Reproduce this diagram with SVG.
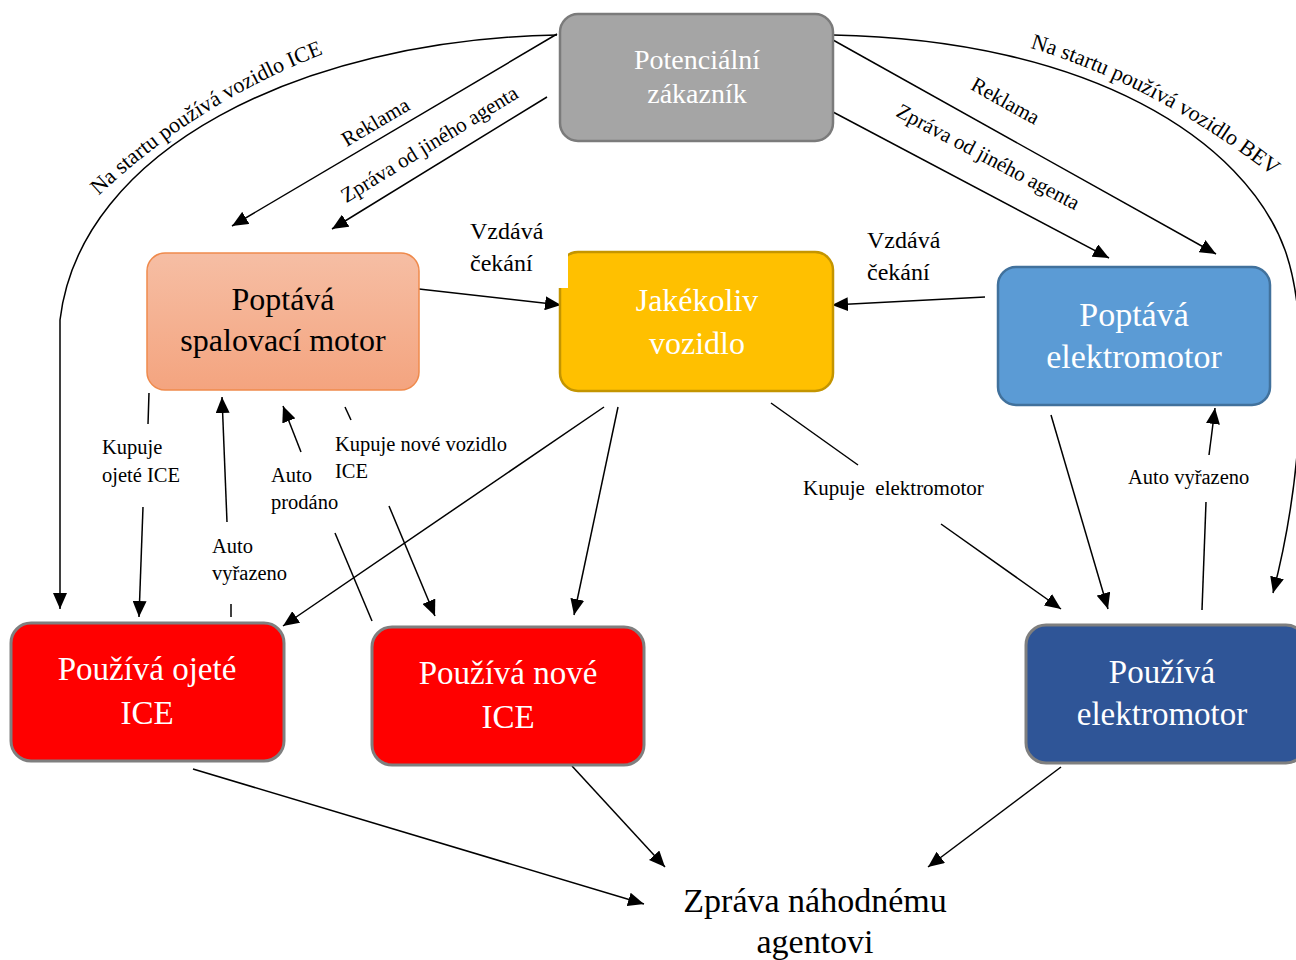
<svg xmlns="http://www.w3.org/2000/svg" width="1296" height="960" viewBox="0 0 1296 960">
  <style>
    text { font-family: "Liberation Serif", "Times New Roman", serif; }
    .lbl { font-size: 20.5px; fill: #000; }
    .rot { font-size: 21px; fill: #000; }
    .wait { font-size: 24px; fill: #000; }
    .node-text { fill: #fff; text-anchor: middle; }
    .edge { fill: none; stroke: #000; stroke-width: 1.5; }
    .arrow { marker-end: url(#head); }
  </style>
  <defs>
    <marker id="head" viewBox="0 0 16 14" refX="16" refY="7" markerWidth="16" markerHeight="14" markerUnits="userSpaceOnUse" orient="auto">
      <path d="M0,0 L16,7 L0,14 Z" fill="#000"/>
    </marker>
    <linearGradient id="peach" x1="0" y1="0" x2="0" y2="1">
      <stop offset="0" stop-color="#f6bea4"/>
      <stop offset="1" stop-color="#f4a47f"/>
    </linearGradient>
    <path id="ice-start" d="M80,214 Q194,98 348,45"/>
    <path id="bev-start" d="M1024,46 Q1156,84 1278,180"/>
  </defs>

  <rect width="1296" height="960" fill="#fff"/>

  <!-- connectors -->
  <g id="connectors">
    <!-- start state links from the potential customer -->
    <path class="edge arrow" d="M557,35 C300,40 80,150 60,320 L60,609"/>
    <path class="edge arrow" d="M557,34 L232,226"/>
    <path class="edge arrow" d="M547,97 L332,229"/>
    <path class="edge arrow" d="M833,35 C1090,40 1245,140 1285,250 C1310,320 1305,470 1273,593"/>
    <path class="edge arrow" d="M833,40 L1216,254"/>
    <path class="edge arrow" d="M833,112 L1109,258"/>
    <!-- giving up waiting -->
    <path class="edge arrow" d="M419,289 L561,305"/>
    <path class="edge arrow" d="M985,297 L832,305"/>
    <!-- ICE transitions -->
    <path class="edge" d="M149,393 L148,424"/>
    <path class="edge arrow" d="M143,507 L139,617"/>
    <path class="edge" d="M231,604 L231,617"/>
    <path class="edge arrow" d="M227,522 L222,397"/>
    <path class="edge" d="M372,621 L335,533"/>
    <path class="edge arrow" d="M301,452 L283,406"/>
    <path class="edge" d="M345,407 L351,420"/>
    <path class="edge arrow" d="M389,506 L435,616"/>
    <path class="edge arrow" d="M604,407 L283,626"/>
    <path class="edge arrow" d="M618,407 L574,615"/>
    <!-- BEV transitions -->
    <path class="edge" d="M771,403 L858,465"/>
    <path class="edge arrow" d="M941,524 L1061,609"/>
    <path class="edge arrow" d="M1051,415 L1108,609"/>
    <path class="edge" d="M1202,610 L1206,502"/>
    <path class="edge arrow" d="M1209,455 L1215,408"/>
    <!-- messages to a random agent -->
    <path class="edge arrow" d="M193,769 L644,904"/>
    <path class="edge arrow" d="M572,766 L665,867"/>
    <path class="edge arrow" d="M1061,767 L928,867"/>

    <!-- connector labels -->
    <text style="font-size:22px"><textPath href="#ice-start" startOffset="50%" text-anchor="middle">Na startu používá vozidlo ICE</textPath></text>
    <text style="font-size:22px"><textPath href="#bev-start" startOffset="50%" text-anchor="middle">Na startu používá vozidlo BEV</textPath></text>
    <text class="rot" text-anchor="middle" transform="translate(379,128) rotate(-30.4)">Reklama</text>
    <text class="rot" text-anchor="middle" transform="translate(433,150) rotate(-31.5)">Zpráva od jiného agenta</text>
    <text class="rot" text-anchor="middle" transform="translate(1002,107) rotate(29.1)">Reklama</text>
    <text class="rot" text-anchor="middle" transform="translate(985,163) rotate(27.8)">Zpráva od jiného agenta</text>
    <text class="wait" x="470" y="239">Vzdává</text>
    <text class="wait" x="470" y="271">čekání</text>
    <text class="wait" x="867" y="248">Vzdává</text>
    <text class="wait" x="867" y="280">čekání</text>
    <text class="lbl" x="102" y="454">Kupuje</text>
    <text class="lbl" x="102" y="482">ojeté ICE</text>
    <text class="lbl" x="212" y="553">Auto</text>
    <text class="lbl" x="212" y="580">vyřazeno</text>
    <text class="lbl" x="271" y="482">Auto</text>
    <text class="lbl" x="271" y="509">prodáno</text>
    <text class="lbl" x="335" y="451">Kupuje nové vozidlo</text>
    <text class="lbl" x="335" y="478">ICE</text>
    <text class="lbl" x="803" y="495" style="font-size:21px" xml:space="preserve">Kupuje  elektromotor</text>
    <text class="lbl" x="1128" y="484">Auto vyřazeno</text>
  </g>

  <!-- nodes -->
  <g id="potencialni-zakaznik">
    <rect x="560" y="14" width="273" height="127" rx="18" fill="#a5a5a5" stroke="#7b7b7b" stroke-width="2.5"/>
    <text class="node-text" x="697" y="69" font-size="28">Potenciální</text>
    <text class="node-text" x="697" y="103" font-size="28">zákazník</text>
  </g>

  <g id="poptava-spalovaci">
    <rect x="147" y="253" width="272" height="137" rx="18" fill="url(#peach)" stroke="#ef8a4c" stroke-width="1.5"/>
    <text x="283" y="310" font-size="32" text-anchor="middle" fill="#000">Poptává</text>
    <text x="283" y="351" font-size="32" text-anchor="middle" fill="#000">spalovací motor</text>
  </g>

  <g id="jakekoliv-vozidlo">
    <rect x="560" y="252" width="273" height="139" rx="18" fill="#ffc000" stroke="#c49500" stroke-width="2.5"/>
    <rect x="557" y="249" width="11" height="39" fill="#fff"/>
    <text class="node-text" x="697" y="311" font-size="32">Jakékoliv</text>
    <text class="node-text" x="697" y="354" font-size="32">vozidlo</text>
  </g>

  <g id="poptava-elektromotor">
    <rect x="998" y="267" width="272" height="138" rx="18" fill="#5b9bd5" stroke="#41719c" stroke-width="2.5"/>
    <text class="node-text" x="1134" y="326" font-size="34">Poptává</text>
    <text class="node-text" x="1134" y="368" font-size="34">elektromotor</text>
  </g>

  <g id="pouziva-ojete-ice">
    <rect x="11" y="623" width="273" height="138" rx="20" fill="#ff0000" stroke="#7f7f7f" stroke-width="3"/>
    <text class="node-text" x="147" y="680" font-size="33">Používá ojeté</text>
    <text class="node-text" x="147" y="724" font-size="33">ICE</text>
  </g>

  <g id="pouziva-nove-ice">
    <rect x="372" y="627" width="272" height="138" rx="20" fill="#ff0000" stroke="#7f7f7f" stroke-width="3"/>
    <text class="node-text" x="508" y="684" font-size="33">Používá nové</text>
    <text class="node-text" x="508" y="728" font-size="33">ICE</text>
  </g>

  <g id="pouziva-elektromotor">
    <rect x="1026" y="625" width="280" height="138" rx="20" fill="#2f5597" stroke="#7f7f7f" stroke-width="3"/>
    <text class="node-text" x="1162" y="683" font-size="33">Používá</text>
    <text class="node-text" x="1162" y="725" font-size="33">elektromotor</text>
  </g>

  <g id="zprava-nahodnemu-agentovi">
    <text x="815" y="912" font-size="34" text-anchor="middle" fill="#000">Zpráva náhodnému</text>
    <text x="815" y="953" font-size="34" text-anchor="middle" fill="#000">agentovi</text>
  </g>
</svg>
